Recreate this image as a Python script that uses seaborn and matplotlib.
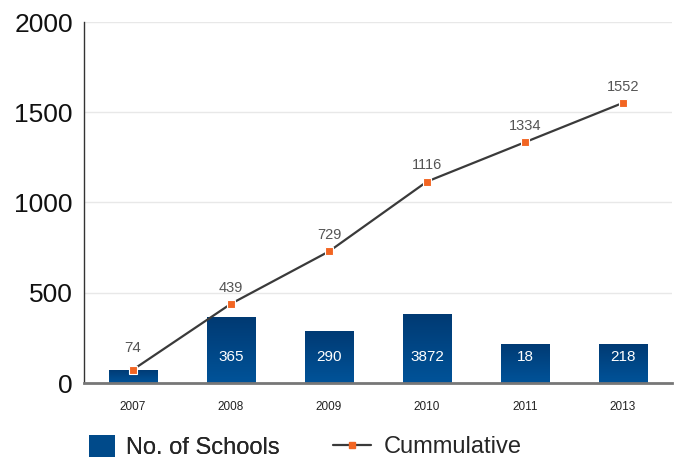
import numpy as np
import matplotlib
matplotlib.use("Agg")
import matplotlib.pyplot as plt
import seaborn as sns
from matplotlib.patches import Patch
from matplotlib.lines import Line2D
from matplotlib.colors import LinearSegmentedColormap

years = ["2007", "2008", "2009", "2010", "2011", "2013"]
schools = [74, 365, 290, 385, 218, 218]
school_labels = ["74", "365", "290", "3872", "18", "218"]
cumulative = [74, 439, 729, 1116, 1334, 1552]
yticks = [0, 500, 1000, 1500, 2000]

sns.set_theme(style="white")
plt.rcParams['font.family'] = ['Liberation Sans', 'DejaVu Sans']

fig = plt.figure(figsize=(6.78, 4.61), dpi=100)
ax = fig.add_axes([84/678, 1-383/461, 588/678, 361/461])

sns.barplot(x=years, y=schools, ax=ax, color="#004a8a", width=0.49, saturation=1)

# gradient fill for bars
cmap = LinearSegmentedColormap.from_list("g", ["#005399", "#003a73"])
grad = np.linspace(0, 1, 100).reshape(-1, 1)
for p in list(ax.patches):
    x0, y0 = p.get_x(), p.get_y()
    w, h = p.get_width(), p.get_height()
    im = ax.imshow(grad, cmap=cmap, extent=[x0, x0 + w, y0, y0 + h],
                   origin="lower", aspect="auto", zorder=p.get_zorder() + 0.1)
    im.set_clip_path(p)

sns.lineplot(x=np.arange(len(years)), y=cumulative, ax=ax, color="#3a3a3a",
             linewidth=1.6, marker="s", markersize=5.5, markerfacecolor="#f26522",
             markeredgecolor="white", markeredgewidth=0.8, zorder=5)

# labels
for i, (v, lab) in enumerate(zip(schools, school_labels)):
    if i == 0:
        ax.text(i, v + 120, lab, ha="center", va="center", fontsize=11, color="#555555")
    else:
        ax.text(i, 145, lab, ha="center", va="center", fontsize=11, color="white", zorder=6)
for i, v in enumerate(cumulative[1:], start=1):
    ax.text(i, v + 90, str(v), ha="center", va="center", fontsize=10.5, color="#555555")

ax.set_xlim(-0.5, 5.5)
ax.set_ylim(0, 2000)
ax.set_yticks(yticks)
ax.set_yticklabels([str(t) for t in yticks], fontsize=19, color="#111111")
ax.yaxis.grid(True, color="#e8e8e8", linewidth=1)
ax.set_axisbelow(True)

ax.set_xticks(range(len(years)))
ax.set_xticklabels(years, fontsize=8.5, color="#222222")
ax.tick_params(axis="x", which="major", length=0, pad=13)
ax.set_xticks(np.arange(0.5, 6, 1), minor=True)
ax.tick_params(axis="x", which="minor", direction="in", length=5, width=1.2, color="#222222")
ax.tick_params(axis="y", direction="in", length=10, width=1, color="#333333", pad=8)

for s in ["top", "right"]:
    ax.spines[s].set_visible(False)
ax.spines["left"].set_color("#333333")
ax.spines["left"].set_linewidth(1)
ax.spines["bottom"].set_color("#777777")
ax.spines["bottom"].set_linewidth(2)

bar_handle = Patch(facecolor="#004a8a", edgecolor="none")
line_handle = Line2D([0], [0], color="#3a3a3a", linewidth=1.6, marker="s", markersize=4,
                     markerfacecolor="#f26522", markeredgecolor="#f26522")
leg1 = fig.legend([bar_handle], ["No. of Schools"], loc="center left",
                  bbox_to_anchor=(89/678, 1-447/461), frameon=False, fontsize=17,
                  handlelength=1.1, handleheight=1.1, handletextpad=0.45,
                  borderpad=0, borderaxespad=0)
leg2 = fig.legend([line_handle], ["Cummulative"], loc="center left",
                  bbox_to_anchor=(333/678, 1-447/461), frameon=False, fontsize=17,
                  handlelength=1.6, handletextpad=0.55,
                  borderpad=0, borderaxespad=0)
fig.add_artist(leg1)

fig.savefig("out.png", dpi=100, facecolor="white")
